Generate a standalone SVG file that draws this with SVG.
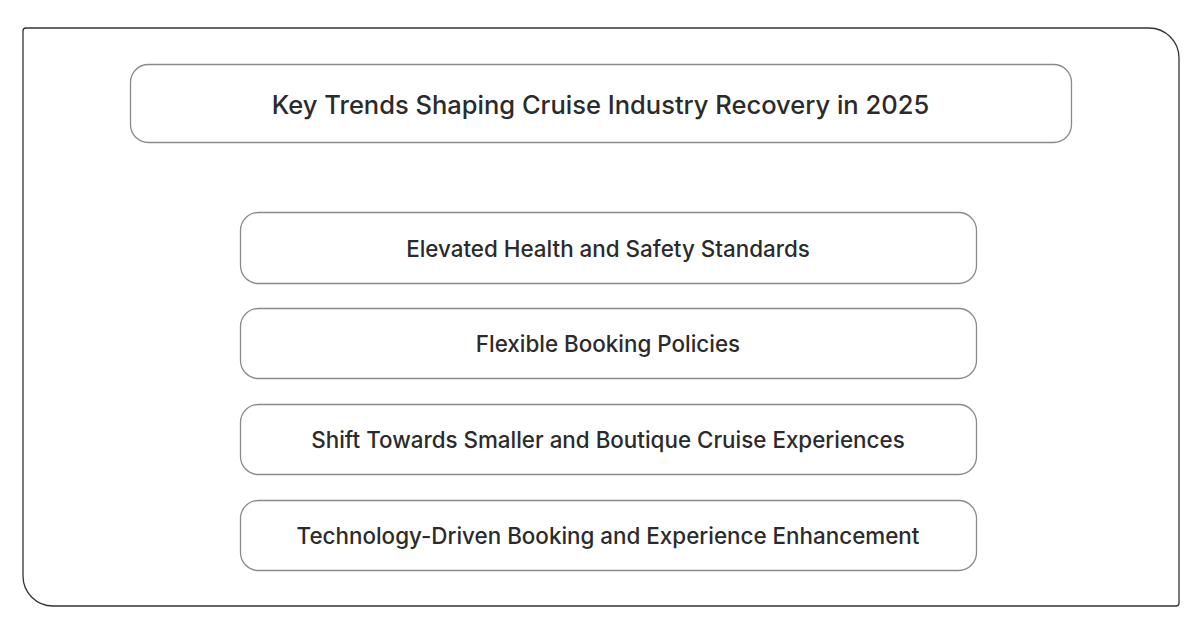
<svg xmlns="http://www.w3.org/2000/svg" width="1202" height="634" viewBox="0 0 1202 634">
<style>
.box{fill:#fff;stroke:#8a8a8a;stroke-width:1.3}
.t{font-family:Inter,"Noto Sans",sans-serif;font-weight:500;fill:#2b2b2b;text-anchor:middle}
.title{font-size:25.5px}
.item{font-size:22.4px}
</style>
<rect width="1202" height="634" fill="#fff"/>
<path id="frame" d="M26,28 H1149 A30,30 0 0 1 1179,58 V603 A3,3 0 0 1 1176,606 H53 A30,30 0 0 1 23,576 V31 A3,3 0 0 1 26,28 Z" fill="none" stroke="#333" stroke-width="1.3"/>
<g id="title">
<rect class="box" x="130.5" y="64.5" width="941" height="78" rx="18"/>
<text class="t title" x="600.5" y="114">Key Trends Shaping Cruise Industry Recovery in 2025</text>
</g>
<g id="item1">
<rect class="box" x="240.5" y="212.5" width="736" height="71" rx="18"/>
<text class="t item" x="608" y="257">Elevated Health and Safety Standards</text>
</g>
<g id="item2">
<rect class="box" x="240.5" y="308.5" width="736" height="70" rx="18"/>
<text class="t item" x="608" y="352">Flexible Booking Policies</text>
</g>
<g id="item3">
<rect class="box" x="240.5" y="404.5" width="736" height="70" rx="18"/>
<text class="t item" x="608" y="448">Shift Towards Smaller and Boutique Cruise Experiences</text>
</g>
<g id="item4">
<rect class="box" x="240.5" y="500.5" width="736" height="70" rx="18"/>
<text class="t item" x="608" y="544">Technology-Driven Booking and Experience Enhancement</text>
</g>
<g id="connectors"></g>
</svg>
